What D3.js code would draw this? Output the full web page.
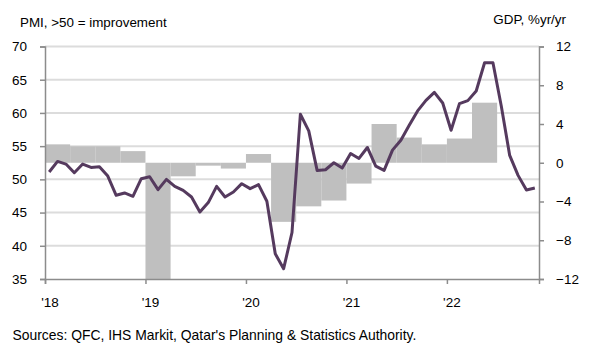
<!DOCTYPE html>
<html>
<head>
<meta charset="utf-8">
<script src="https://cdn.jsdelivr.net/npm/d3@7"></script>
<style>
  body { margin: 0; background: #fff; }
  text { font-family: "Liberation Sans", Arial, sans-serif; fill: #000; }
</style>
</head>
<body>
<svg width="589" height="344"></svg>
<script>
// monthly PMI, Jan 2018 - Nov 2022
const pmi = [
  51.1, 52.7, 52.3, 51.0, 52.3, 51.8, 51.9, 50.5, 47.6, 47.95, 47.45, 50.1,
  50.4, 48.45, 50.0, 48.95, 48.35, 47.35, 45.1, 46.5, 48.95, 47.35, 48.1, 49.35,
  48.6, 49.2, 46.7, 38.8, 36.55, 42.0, 59.8, 57.3, 51.35, 51.45, 52.5, 51.7,
  53.9, 53.15, 54.8, 52.0, 51.35, 54.4, 55.9, 58.15, 60.3, 61.9, 63.1, 61.5,
  57.4, 61.4, 61.85, 63.3, 67.55, 67.55, 61.0, 53.6, 50.6, 48.4, 48.7
];
// quarterly GDP %yr/yr, Q1 2018 - Q2 2022
const gdp = [1.9, 1.7, 1.7, 1.2, -12, -1.4, -0.3, -0.6, 0.9, -6.1, -4.5, -3.9, -2.15, 4.0, 2.6, 1.9, 2.5, 6.2];
const yearLabels = ["'18", "'19", "'20", "'21", "'22"];
const pmiTicks = [35, 40, 45, 50, 55, 60, 65, 70];
const gdpTicks = [-12, -8, -4, 0, 4, 8, 12];

const svg = d3.select('svg');
const marg = { esquerda: 45, direita: 539, cima: 46.5, baixo: 279 };

const x = d3.scaleLinear().domain([0, 59]).range([marg.esquerda, marg.direita]);
const yPmi = d3.scaleLinear().domain([35, 70]).range([marg.baixo, marg.cima]);
const yGdp = d3.scaleLinear().domain([-12, 12]).range([marg.baixo, marg.cima]);

// gridlines
svg.append('g')
  .selectAll('line').data(pmiTicks.filter(d => d > 35))
  .enter().append('line')
    .attr('x1', marg.esquerda).attr('x2', marg.direita)
    .attr('y1', d => yPmi(d)).attr('y2', d => yPmi(d))
    .attr('stroke', '#dcdcdc').attr('stroke-width', 2);

// GDP bars
svg.append('g')
  .selectAll('rect').data(gdp)
  .enter().append('rect')
    .attr('x', (d, i) => x(i * 3))
    .attr('width', (d, i) => x(i * 3 + 3) - x(i * 3))
    .attr('y', d => yGdp(Math.max(0, d)))
    .attr('height', d => Math.abs(yGdp(d) - yGdp(0)))
    .attr('fill', '#bfbfbf');

// PMI line
const linha = d3.line()
  .x((d, i) => x(i + 0.5))
  .y(d => yPmi(d));

svg.append('path')
  .datum(pmi)
  .attr('d', linha)
  .attr('fill', 'none')
  .attr('stroke', '#553a5e')
  .attr('stroke-width', 3)
  .attr('stroke-linejoin', 'round');

// axes
const estiloEixo = g => {
  g.selectAll('.domain').attr('stroke', '#8c8c8c').attr('stroke-width', 1.5);
  g.selectAll('.tick line').attr('stroke', '#8c8c8c').attr('stroke-width', 1.5);
  g.selectAll('text').attr('font-size', 13.5).attr('font-family', '"Liberation Sans", Arial, sans-serif');
};

svg.append('g')
  .attr('transform', `translate(${marg.esquerda},0)`)
  .call(d3.axisLeft(yPmi).tickValues(pmiTicks).tickSizeOuter(0).tickSize(5).tickPadding(13))
  .call(estiloEixo);

svg.append('g')
  .attr('transform', `translate(${marg.direita},0)`)
  .call(d3.axisRight(yGdp).tickValues(gdpTicks).tickSizeOuter(0).tickSize(5).tickPadding(12))
  .call(estiloEixo);

const eixoX = svg.append('g')
  .attr('transform', `translate(0,${marg.baixo})`)
  .call(d3.axisBottom(x).tickValues([0, 12, 24, 36, 48]).tickFormat((d, i) => yearLabels[i])
    .tickSizeOuter(0).tickSize(5).tickPadding(13))
  .call(estiloEixo);
eixoX.selectAll('.tick text').attr('dx', 4.5);

// titles
svg.append('text').attr('x', 20).attr('y', 26.5).attr('font-size', 13.4).text('PMI, >50 = improvement');
svg.append('text').attr('x', 566).attr('y', 24).attr('font-size', 13.4).attr('text-anchor', 'end').text('GDP, %yr/yr');
svg.append('text').attr('x', 12.5).attr('y', 339.5).attr('font-size', 13.9)
  .text("Sources: QFC, IHS Markit, Qatar's Planning & Statistics Authority.");
</script>
</body>
</html>
